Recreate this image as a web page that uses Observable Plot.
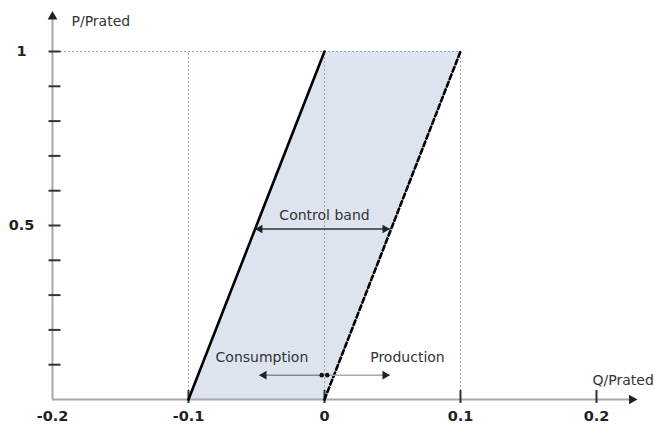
<!DOCTYPE html>
<html>
<head>
<meta charset="utf-8">
<script src="https://cdn.jsdelivr.net/npm/d3@7"></script>
<script src="https://cdn.jsdelivr.net/npm/@observablehq/plot@0.6"></script>
<style>
  html, body { margin: 0; padding: 0; background: #fff; }
  svg { display: block; }
</style>
</head>
<body>
<div id="chart"></div>
<script>
// ---- data ----
const xTickVals = [-0.2, -0.1, 0, 0.1, 0.2];
const xTickLabels = ["-0.2", "-0.1", "0", "0.1", "0.2"];
const xTickMarks = [-0.1, 0, 0.1, 0.2];
const yTickVals = [0.1, 0.2, 0.3, 0.4, 0.5, 0.6, 0.7, 0.8, 0.9, 1];
const yLabelVals = [0.5, 1];
const yLabels = ["0.5", "1"];

const bandP = [0, 1];
const bandLeftQ = [-0.1, 0];     // solid line (consumption limit)
const bandRightQ = [0, 0.1];     // dashed line (production limit)

const gridQ = [-0.1, 0, 0.1];
const gridP = [1];

const axisQEnd = 0.226;
const axisPEnd = 1.1;

const controlBandQ = [-0.051, 0.048];
const controlBandP = 0.49;

const flowP = 0.07;
const consumptionQ = [-0.002, -0.048];
const productionQ = [0.002, 0.048];

const annotationText = ["Control band", "Consumption", "Production"];
const annotationQ = [0, -0.046, 0.061];
const annotationP = [0.53, 0.12, 0.12];

const axisTitles = ["P/Prated", "Q/Prated"];

// ---- layout ----
const W = 655, H = 425;
const mL = 52, mR = 59, mT = 51, mB = 26;
const pxQ = 0.4 / (W - mL - mR);   // data units per px along Q
const pxP = 1 / (H - mT - mB);     // data units per px along P

// ---- derived tables ----
const band = bandP.map((p, i) => ({p, q1: bandLeftQ[i], q2: bandRightQ[i]}));
const solid = bandP.map((p, i) => ({p, q: bandLeftQ[i]}));
const dashed = bandP.map((p, i) => ({p, q: bandRightQ[i]}));
const annotations = annotationText.map((t, i) => ({t, q: annotationQ[i], p: annotationP[i]}));
const xLabels = xTickVals.map((q, i) => ({q, t: xTickLabels[i]}));
const yLab = yLabelVals.map((p, i) => ({p, t: yLabels[i]}));

const font = "DejaVu Sans, Verdana, sans-serif";
const tri = 3.2;       // arrowhead radius
const tipOff = 4.8;    // centroid-to-tip offset in px

const chart = Plot.plot({
  width: W,
  height: H,
  marginLeft: mL,
  marginRight: mR,
  marginTop: mT,
  marginBottom: mB,
  x: {domain: [-0.2, 0.2], axis: null},
  y: {domain: [0, 1], axis: null},
  style: {fontFamily: font, background: "#fff"},
  marks: [
    // control band fill
    Plot.areaX(band, {y: "p", x1: "q1", x2: "q2", fill: "#dde3ef", curve: "linear"}),
    // dotted guide lines
    Plot.ruleX(gridQ, {y1: 0, y2: 1, stroke: "#a5a5a5", strokeWidth: 1, strokeDasharray: "2,2"}),
    Plot.ruleY(gridP, {x1: -0.2, x2: 0.1, stroke: "#a5a5a5", strokeWidth: 1, strokeDasharray: "2,2"}),
    // axes lines
    Plot.ruleY([0], {x1: -0.2, x2: axisQEnd, stroke: "#a8a8a8", strokeWidth: 2}),
    Plot.ruleX([-0.2], {y1: 0, y2: axisPEnd, stroke: "#a8a8a8", strokeWidth: 2}),
    Plot.dot([0], {x: axisQEnd, y: 0, symbol: "triangle", r: 3.6, rotate: 90, fill: "#222", stroke: "none"}),
    Plot.dot([0], {x: -0.2, y: axisPEnd, symbol: "triangle", r: 3.6, rotate: 0, fill: "#222", stroke: "none"}),
    // tick marks
    Plot.ruleY(yTickVals, {y: d => d, x1: -0.2 - 3.5 * pxQ, x2: -0.2 + 8.5 * pxQ, stroke: "#333", strokeWidth: 2}),
    Plot.ruleX(xTickMarks, {x: d => d, y1: -4 * pxP, y2: 9 * pxP, stroke: "#333", strokeWidth: 2}),
    // tick labels
    Plot.text(xLabels, {x: "q", y: 0, text: "t", dy: 17, fontWeight: "bold", fontSize: 14.5, fill: "#222"}),
    Plot.text(yLab, {x: -0.2, y: "p", text: "t", dx: -31, fontWeight: "bold", fontSize: 14.5, fill: "#222"}),
    // axis titles
    Plot.text([axisTitles[0]], {x: -0.2, y: axisPEnd, text: d => d, dx: 19, dy: 5, textAnchor: "start", fontSize: 14, fill: "#333"}),
    Plot.text([axisTitles[1]], {x: axisQEnd, y: 0, text: d => d, dx: 22, dy: -19, textAnchor: "end", fontSize: 14, fill: "#333"}),
    // band edge lines
    Plot.line(solid, {x: "q", y: "p", stroke: "#000", strokeWidth: 2.6}),
    Plot.line(dashed, {x: "q", y: "p", stroke: "#000", strokeWidth: 2.6, strokeDasharray: "5,3"}),
    // control band arrow
    Plot.link([0], {x1: controlBandQ[0], x2: controlBandQ[1], y1: controlBandP, y2: controlBandP, stroke: "#333", strokeWidth: 1.5}),
    Plot.dot([0], {x: controlBandQ[0], y: controlBandP, symbol: "triangle", r: tri, rotate: -90, dx: tipOff, fill: "#222", stroke: "none"}),
    Plot.dot([0], {x: controlBandQ[1], y: controlBandP, symbol: "triangle", r: tri, rotate: 90, dx: -tipOff, fill: "#222", stroke: "none"}),
    // consumption / production arrows
    Plot.link([0], {x1: consumptionQ[0], x2: consumptionQ[1], y1: flowP, y2: flowP, stroke: "#8a8a8a", strokeWidth: 1.5}),
    Plot.link([0], {x1: productionQ[0], x2: productionQ[1], y1: flowP, y2: flowP, stroke: "#aaaaaa", strokeWidth: 1.5}),
    Plot.dot([0], {x: consumptionQ[1], y: flowP, symbol: "triangle", r: tri, rotate: -90, dx: tipOff, fill: "#222", stroke: "none"}),
    Plot.dot([0], {x: productionQ[1], y: flowP, symbol: "triangle", r: tri, rotate: 90, dx: -tipOff, fill: "#222", stroke: "none"}),
    Plot.dot([consumptionQ[0], productionQ[0]], {x: d => d, y: flowP, r: 2.3, fill: "#111", stroke: "none"}),
    // annotations
    Plot.text(annotations, {x: "q", y: "p", text: "t", fontSize: 14, fill: "#333"})
  ]
});

document.getElementById("chart").appendChild(chart);
</script>
</body>
</html>
